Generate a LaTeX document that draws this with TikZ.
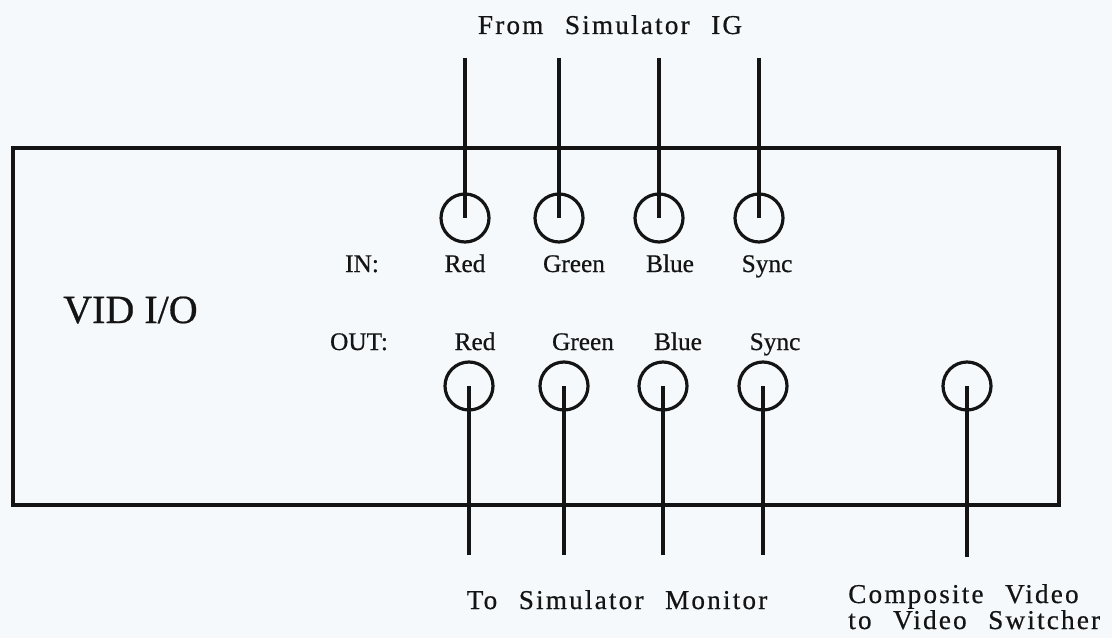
\documentclass[tikz,border=0pt]{standalone}
\usepackage{fontspec}
\setmainfont{Liberation Serif}[FakeBold=0.6]
\newfontfamily\spacedfont[LetterSpace=8,WordSpace=2.4,FakeBold=0.6]{Liberation Serif}
\newcommand\tightlines{\lineskiplimit=-100pt\relax}
\definecolor{paper}{RGB}{245,249,252}
\definecolor{ink}{RGB}{20,20,20}
\begin{document}
\begin{tikzpicture}[x=0.75pt,y=-0.75pt,
  wire/.style={line width=2.6pt,draw=ink},
  jack/.style={circle,draw=ink,line width=2.4pt,minimum size=36pt,inner sep=0pt},
  lab/.style={font=\fontsize{19}{22}\selectfont,anchor=base,inner sep=0pt,text=ink},
  bigcap/.style={font=\spacedfont\fontsize{20.4}{19.5}\selectfont\tightlines,inner sep=0pt,text=ink},
]
\fill[paper] (0,0) rectangle (1112,638);
\useasboundingbox (0,0) rectangle (1112,638);

% enclosure
\draw[wire] (13,148) rectangle (1059,505);
\node[font=\fontsize{30}{36}\selectfont,anchor=base west,inner sep=0pt,text=ink] (title) at (63,323) {VID I/O};

% input jacks
\node[jack] (inR) at (465,218) {};
\node[jack] (inG) at (559,218) {};
\node[jack] (inB) at (659,218) {};
\node[jack] (inS) at (759,218) {};
\coordinate (tR) at (465,58);
\coordinate (tG) at (559,58);
\coordinate (tB) at (659,58);
\coordinate (tS) at (759,58);
\draw[wire] (tR) -- (inR.center);
\draw[wire] (tG) -- (inG.center);
\draw[wire] (tB) -- (inB.center);
\draw[wire] (tS) -- (inS.center);

% output jacks
\node[jack] (outR) at (469,386) {};
\node[jack] (outG) at (564,386) {};
\node[jack] (outB) at (663,386) {};
\node[jack] (outS) at (763,386) {};
\node[jack] (outC) at (967,386) {};
\coordinate (bR) at (469,555);
\coordinate (bG) at (564,555);
\coordinate (bB) at (663,555);
\coordinate (bS) at (763,555);
\coordinate (bC) at (967,557);
\draw[wire] (outR.center) -- (bR);
\draw[wire] (outG.center) -- (bG);
\draw[wire] (outB.center) -- (bB);
\draw[wire] (outS.center) -- (bS);
\draw[wire] (outC.center) -- (bC);

% labels
\node[lab] (lin) at (362,272) {IN:};
\node[lab] (linR) at (465,272) {Red};
\node[lab] (linG) at (574,272) {Green};
\node[lab] (linB) at (670,272) {Blue};
\node[lab] (linS) at (767,272) {Sync};
\node[lab] (lout) at (359,350) {OUT:};
\node[lab] (loutR) at (475,350) {Red};
\node[lab] (loutG) at (583,350) {Green};
\node[lab] (loutB) at (678,350) {Blue};
\node[lab] (loutS) at (775,350) {Sync};

% captions
\node[bigcap,anchor=base] (from) at (610,34) {From Simulator IG};
\node[bigcap,anchor=base] (to) at (617,609) {To Simulator Monitor};
\node[bigcap,anchor=base west,align=left] (comp) at (848,629) {Composite Video\\to Video Switcher};
\end{tikzpicture}
\end{document}
